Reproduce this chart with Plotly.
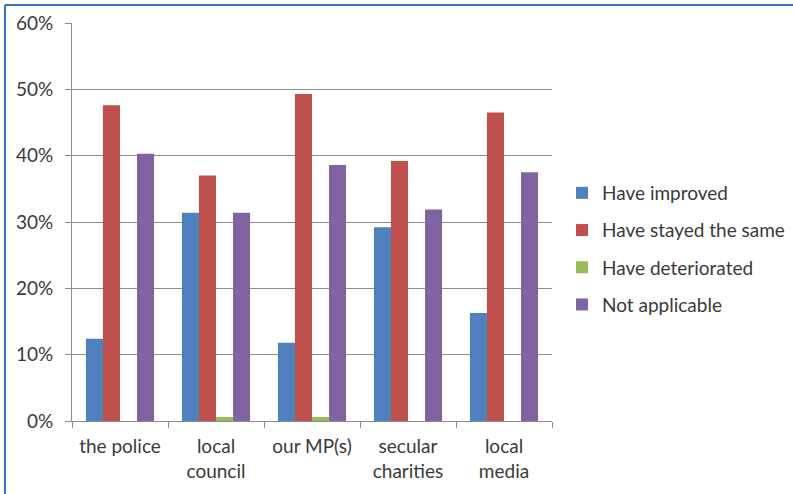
import plotly.graph_objects as go

categories = ["the police", "local<br>council", "our MP(s)", "secular<br>charities", "local<br>media"]
series_names = ["Have improved", "Have stayed the same", "Have deteriorated", "Not applicable"]
improved = [12.4, 31.4, 11.8, 29.2, 16.3]
stayed_same = [47.6, 37.0, 49.3, 39.2, 46.5]
deteriorated = [0.0, 0.6, 0.6, 0.0, 0.0]
not_applicable = [40.3, 31.4, 38.6, 31.9, 37.5]
colors = ["#4F81BD", "#C0504D", "#9BBB59", "#8064A2"]
y_ticks = [0, 10, 20, 30, 40, 50, 60]
y_tick_labels = ["0%", "10%", "20%", "30%", "40%", "50%", "60%"]

W, H = 793, 494
ml, mr, mt, mb = 72, 241, 23, 73

fig = go.Figure()
for i, (name, vals) in enumerate(zip(series_names, [improved, stayed_same, deteriorated, not_applicable])):
    fig.add_trace(go.Bar(
        x=categories, y=vals, name=name,
        marker=dict(color=colors[i], line=dict(width=0)),
        legendgroup=f"g{i}",
    ))

pw = W - ml - mr
ph = H - mt - mb
# blue frame (top and left edges visible)
fx = (5 - ml) / pw
fy = (H - mb - 5) / ph
fig.add_shape(type="line", xref="paper", yref="paper", x0=fx, x1=2, y0=fy, y1=fy,
              line=dict(color="#3476B8", width=2))
fig.add_shape(type="line", xref="paper", yref="paper", x0=fx, x1=fx, y0=fy, y1=-2,
              line=dict(color="#3476B8", width=2))

font = dict(family="Lato, 'Open Sans', sans-serif", size=19, color="#3a3a3a")

fig.update_layout(
    width=W, height=H,
    margin=dict(l=ml, r=mr, t=mt, b=mb, autoexpand=False),
    paper_bgcolor="white", plot_bgcolor="white",
    barmode="group", bargap=0.29, bargroupgap=0,
    font=font,
    showlegend=True,
    legend=dict(
        x=(562 - ml) / pw, xanchor="left",
        y=(H - mb - 174) / ph, yanchor="top",
        traceorder="grouped", tracegroupgap=9.5,
        font=font, bgcolor="rgba(0,0,0,0)",
    ),
    xaxis=dict(
        showline=True, linecolor="#8c8c8c", linewidth=1,
        ticks="outside", ticklen=6, tickcolor="#8c8c8c", tickson="boundaries",
        showgrid=False, tickfont=font, ticklabelstandoff=8,
    ),
    yaxis=dict(
        range=[0, 60], tickvals=y_ticks, ticktext=y_tick_labels,
        showline=True, linecolor="#8c8c8c", linewidth=1,
        ticks="outside", ticklen=6, tickcolor="#8c8c8c",
        showgrid=True, gridcolor="#8c8c8c", gridwidth=1,
        zeroline=False, tickfont=font, ticklabelstandoff=8,
    ),
)

fig.write_html("out.html")
